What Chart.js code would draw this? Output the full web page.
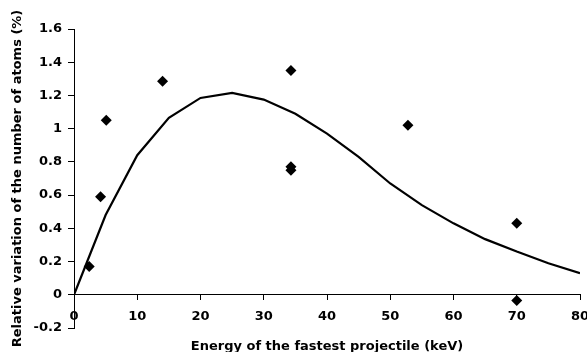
<!DOCTYPE html>
<html>
<head>
<meta charset="utf-8">
<script src="https://cdn.jsdelivr.net/npm/chart.js@4.4.0/dist/chart.umd.min.js"></script>
<style>
  html, body { margin: 0; padding: 0; background: #fff; }
</style>
</head>
<body>
<canvas id="chart" width="587" height="352"></canvas>
<script>
// Mesures (losanges)
const energy = [2.4, 4.2, 5.1, 14, 34.3, 34.3, 34.3, 52.8, 70, 70];
const variation = [0.17, 0.59, 1.05, 1.285, 1.35, 0.77, 0.75, 1.02, 0.43, -0.035];

// Courbe du modèle
const modelEnergy = [0, 5, 10, 15, 20, 25, 30, 35, 40, 45, 50, 55, 60, 65, 70, 75, 80];
const modelVariation = [0, 0.48, 0.84, 1.065, 1.185, 1.215, 1.175, 1.09, 0.97, 0.83, 0.67, 0.54, 0.43, 0.335, 0.26, 0.19, 0.13];

// Graduations
const xTicks = [0, 10, 20, 30, 40, 50, 60, 70, 80];
const yTicks = [-0.2, 0, 0.2, 0.4, 0.6, 0.8, 1, 1.2, 1.4, 1.6];

const tickFont = { family: 'DejaVu Sans', size: 13, weight: 'bold' };

new Chart(document.getElementById('chart').getContext('2d'), {
    type: 'scatter',
    data: {
        datasets: [{
            label: 'Model',
            type: 'line',
            data: modelEnergy.map((x, i) => ({ x: x, y: modelVariation[i] })),
            borderColor: '#000',
            borderWidth: 2.2,
            pointRadius: 0,
            tension: 0,
            fill: false
        }, {
            label: 'Measured',
            data: energy.map((x, i) => ({ x: x, y: variation[i] })),
            pointStyle: 'rectRot',
            pointRadius: 5.5,
            backgroundColor: '#000',
            borderColor: '#000',
            borderWidth: 0
        }]
    },
    options: {
        responsive: false,
        animation: false,
        devicePixelRatio: 1,
        layout: { padding: { left: 0, right: 7, top: 29, bottom: 24 } },
        plugins: {
            legend: { display: false },
            tooltip: { enabled: false }
        },
        scales: {
            x: {
                type: 'linear',
                min: 0,
                max: 80,
                position: { y: 0 },
                border: { color: '#000', width: 1 },
                grid: { drawOnChartArea: false, drawTicks: true, tickLength: 5, color: '#000' },
                ticks: { padding: 9, font: tickFont, color: '#000', maxRotation: 0 },
                afterBuildTicks: s => { s.ticks = xTicks.map(v => ({ value: v })); },
                afterFit: s => { s.paddingLeft = 0; s.paddingRight = 0; },
                title: {
                    display: true,
                    text: 'Energy of the fastest projectile (keV)',
                    font: tickFont,
                    color: '#000',
                    padding: { top: 5, bottom: 0 }
                }
            },
            y: {
                type: 'linear',
                min: -0.2,
                max: 1.6,
                border: { color: '#000', width: 1 },
                grid: { drawOnChartArea: false, drawTicks: true, tickLength: 6, color: '#000' },
                ticks: {
                    padding: 6,
                    font: tickFont,
                    color: '#000',
                    callback: v => String(Number(v.toFixed(1)))
                },
                afterBuildTicks: s => { s.ticks = yTicks.map(v => ({ value: v })); },
                afterFit: s => { s.width = 74; },
                title: {
                    display: true,
                    text: 'Relative variation of the number of atoms (%)',
                    font: tickFont,
                    color: '#000',
                    padding: { top: 10, bottom: 0 }
                }
            }
        }
    }
});
</script>
</body>
</html>
